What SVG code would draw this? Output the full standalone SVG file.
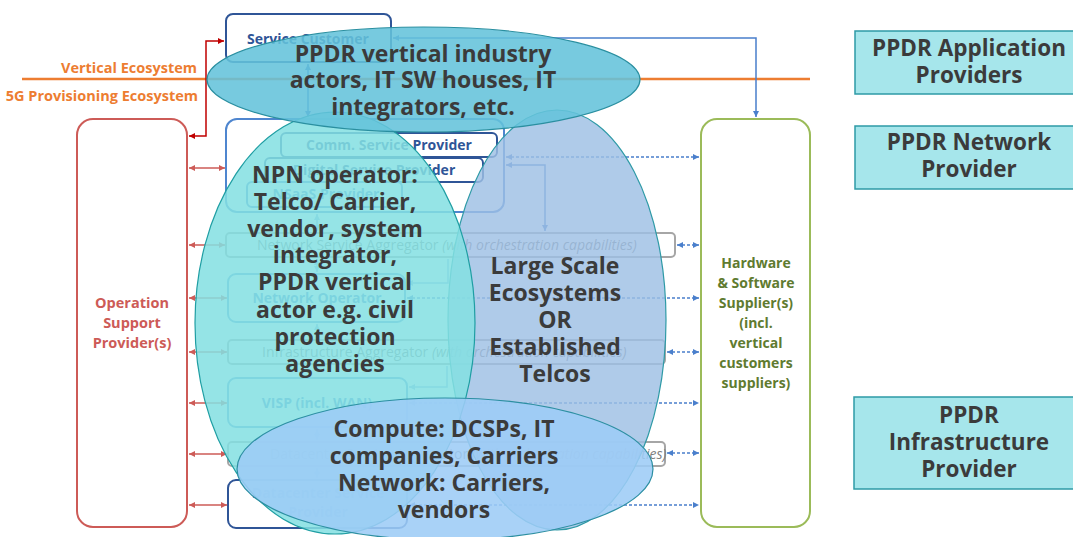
<svg xmlns="http://www.w3.org/2000/svg" width="1073" height="537" viewBox="0 0 1073 537">
  <style>
    .t { font-family: "Open Sans", "Liberation Sans", sans-serif; }
    .eco { font-size: 14.5px; font-weight: 700; fill: #ED7D31; }
    .box { fill: #ffffff; stroke-width: 2; }
    .dark { stroke: #2F5597; }
    .mid { stroke: #4F86CF; }
    .lite { stroke: #5B9BD5; }
    .grey { stroke: #A6A6A6; }
    .blab { font-size: 14px; font-weight: 700; fill: #2F5597; }
    .llab { font-size: 14px; font-weight: 700; fill: #4A86CC; }
    .glab { font-size: 14px; fill: #7F7F7F; }
    .glab tspan.it { font-style: italic; }
    .big { font-size: 23px; font-weight: 700; fill: #3B3B3B; text-anchor: middle; }
    .side { font-size: 22.5px; font-weight: 700; fill: #3B3B3B; text-anchor: middle; }
    .sidebox { fill: #A6E6EB; stroke: #2E9AA6; stroke-width: 1.5; }
    .red { stroke: #CD5B57; stroke-width: 1.5; fill: none; }
    .dred { stroke: #C00000; stroke-width: 1.5; fill: none; }
    .blue { stroke: #4A7FCC; stroke-width: 1.5; fill: none; }
    .dash { stroke: #4A7FCC; stroke-width: 1.5; fill: none; stroke-dasharray: 3 2; }
    .faint { stroke: #8FB4E3; stroke-width: 1.5; fill: none; }
  </style>
  <defs>
    <marker id="ar-red" viewBox="0 0 10 10" refX="10" refY="5" markerWidth="7" markerHeight="6" markerUnits="userSpaceOnUse" orient="auto-start-reverse">
      <path d="M0,0 L10,5 L0,10 z" fill="#CD5B57"/>
    </marker>
    <marker id="ar-dred" viewBox="0 0 10 10" refX="10" refY="5" markerWidth="7" markerHeight="6" markerUnits="userSpaceOnUse" orient="auto-start-reverse">
      <path d="M0,0 L10,5 L0,10 z" fill="#C00000"/>
    </marker>
    <marker id="ar-blue" viewBox="0 0 10 10" refX="10" refY="5" markerWidth="7" markerHeight="6" markerUnits="userSpaceOnUse" orient="auto-start-reverse">
      <path d="M0,0 L10,5 L0,10 z" fill="#4A7FCC"/>
    </marker>
    <marker id="ar-faint" viewBox="0 0 10 10" refX="10" refY="5" markerWidth="7" markerHeight="6" markerUnits="userSpaceOnUse" orient="auto-start-reverse">
      <path d="M0,0 L10,5 L0,10 z" fill="#8FB4E3"/>
    </marker>
  </defs>

  <rect width="1073" height="537" fill="#ffffff"/>

  <!-- ecosystem boundary -->
  <g id="ecosystem-boundary">
    <line x1="22" y1="79" x2="810" y2="79" stroke="#ED7D31" stroke-width="2.5"/>
    <text class="t eco" x="197" y="73" text-anchor="end">Vertical Ecosystem</text>
    <text class="t eco" x="198" y="101" text-anchor="end">5G Provisioning Ecosystem</text>
  </g>

  <!-- role boxes -->
  <g id="service-customer">
    <rect class="box dark" x="226" y="14" width="165" height="48" rx="7"/>
    <text class="t blab" x="247" y="44">Service Customer</text>
  </g>

  <g id="operation-support">
    <rect class="box" x="77" y="119" width="110" height="408" rx="16" stroke="#CD5B57"/>
    <text class="t" x="132" y="308" text-anchor="middle" font-size="14.5" font-weight="700" fill="#CD5B57">Operation</text>
    <text class="t" x="132" y="328" text-anchor="middle" font-size="14.5" font-weight="700" fill="#CD5B57">Support</text>
    <text class="t" x="132" y="348" text-anchor="middle" font-size="14.5" font-weight="700" fill="#CD5B57">Provider(s)</text>
  </g>

  <g id="service-providers">
    <rect class="box mid" x="226" y="119" width="278" height="93" rx="11"/>
    <g id="comm-service-provider">
      <rect class="box dark" x="281" y="133" width="216" height="24" rx="5"/>
      <text class="t blab" x="389" y="150" text-anchor="middle">Comm. Service Provider</text>
    </g>
    <g id="digital-service-provider">
      <rect class="box dark" x="265" y="158" width="218" height="24" rx="5"/>
      <text class="t blab" x="374" y="175" text-anchor="middle">Digital Service Provider</text>
    </g>
    <g id="nsaas-provider">
      <rect class="box mid" x="247" y="182" width="155" height="25" rx="5"/>
      <text class="t llab" x="326" y="199" text-anchor="middle">NSaaS Provider</text>
    </g>
  </g>

  <g id="network-service-aggregator">
    <rect class="box grey" x="226" y="233" width="449" height="24" rx="4"/>
    <text class="t glab" x="257" y="250">Network Service Aggregator <tspan class="it">(with orchestration capabilities)</tspan></text>
  </g>

  <g id="network-operator">
    <rect class="box lite" x="228" y="274" width="177" height="48" rx="8"/>
    <text class="t llab" x="317" y="303" text-anchor="middle">Network Operator</text>
  </g>

  <g id="infrastructure-aggregator">
    <rect class="box grey" x="228" y="340" width="437" height="24" rx="4"/>
    <text class="t glab" x="262" y="357">Infrastructure Aggregator <tspan class="it">(with orchestration capabilities)</tspan></text>
  </g>

  <g id="visp">
    <rect class="box lite" x="228" y="378" width="179" height="49" rx="8"/>
    <text class="t llab" x="317" y="408" text-anchor="middle">VISP (incl. WAN)</text>
  </g>

  <g id="datacenter-service-aggregator">
    <rect class="box grey" x="228" y="442" width="437" height="24" rx="4"/>
    <text class="t glab" x="270" y="459">Datacenter Service Aggregator <tspan class="it">(with orchestration capabilities)</tspan></text>
  </g>

  <g id="datacenter-service-provider">
    <rect class="box dark" x="228" y="480" width="179" height="48" rx="8"/>
    <text class="t llab" x="318" y="498" text-anchor="middle">Datacenter Service</text>
    <text class="t llab" x="318" y="517" text-anchor="middle">Provider</text>
  </g>

  <g id="hw-sw-suppliers">
    <rect class="box" x="701" y="119" width="109" height="408" rx="16" stroke="#9BBB59" stroke-width="2.5"/>
    <g class="t" font-size="14" font-weight="700" fill="#5F7B30" text-anchor="middle">
      <text x="756" y="268">Hardware</text>
      <text x="756" y="288">&amp; Software</text>
      <text x="756" y="308">Supplier(s)</text>
      <text x="756" y="328">(incl.</text>
      <text x="756" y="348">vertical</text>
      <text x="756" y="368">customers</text>
      <text x="756" y="388">suppliers)</text>
    </g>
  </g>

  <!-- connectors -->
  <g id="connectors">
    <path class="dred" d="M224,41 H206 V136 H189" marker-start="url(#ar-dred)" marker-end="url(#ar-dred)"/>
    <g marker-start="url(#ar-red)" marker-end="url(#ar-red)">
      <path class="red" d="M189,168 H225"/>
      <path class="red" d="M189,245 H225"/>
      <path class="red" d="M189,298 H227"/>
      <path class="red" d="M189,352 H227"/>
      <path class="red" d="M189,403 H227"/>
      <path class="red" d="M189,454 H227"/>
      <path class="red" d="M189,505 H227"/>
    </g>
    <path class="blue" d="M393,38 H756 V117" marker-start="url(#ar-blue)" marker-end="url(#ar-blue)"/>
    <path class="blue" d="M308,64 V117" marker-start="url(#ar-blue)" marker-end="url(#ar-blue)"/>
    <path class="blue" d="M506,165 H545 V231" marker-start="url(#ar-blue)" marker-end="url(#ar-blue)"/>
    <g marker-start="url(#ar-blue)" marker-end="url(#ar-blue)">
      <path class="dash" d="M506,157 H699"/>
      <path class="dash" d="M677,245 H699"/>
      <path class="dash" d="M407,298 H699"/>
      <path class="dash" d="M667,352 H699"/>
      <path class="dash" d="M409,403 H699"/>
      <path class="dash" d="M667,453 H699"/>
      <path class="dash" d="M409,505 H699"/>
    </g>
    <g marker-start="url(#ar-faint)" marker-end="url(#ar-faint)">
      <path class="faint" d="M317,214 V231"/>
      <path class="faint" d="M317,259 V272"/>
      <path class="faint" d="M317,324 V338"/>
      <path class="faint" d="M317,429 V440"/>
      <path class="faint" d="M317,468 V478"/>
    </g>
    <path class="faint" d="M448,259 V283 H407" marker-end="url(#ar-faint)"/>
    <path class="faint" d="M447,366 V387 H409" marker-end="url(#ar-faint)"/>
  </g>

  <!-- actor groupings -->
  <g id="large-scale-ecosystems">
    <ellipse cx="557" cy="320" rx="109" ry="210" fill="#9DC0E4" fill-opacity="0.82" stroke="#2E9AA6" stroke-width="1.2"/>
    <text class="t big" x="555" y="274">Large Scale</text>
    <text class="t big" x="555" y="301">Ecosystems</text>
    <text class="t big" x="555" y="328">OR</text>
    <text class="t big" x="555" y="355">Established</text>
    <text class="t big" x="555" y="382">Telcos</text>
  </g>

  <g id="npn-operator">
    <ellipse cx="335" cy="323" rx="140" ry="211" fill="#84E0E2" fill-opacity="0.86" stroke="#1F9EA3" stroke-width="1.2"/>
    <text class="t big" x="335" y="183">NPN operator:</text>
    <text class="t big" x="335" y="210">Telco/ Carrier,</text>
    <text class="t big" x="335" y="237">vendor, system</text>
    <text class="t big" x="335" y="263">integrator,</text>
    <text class="t big" x="335" y="290">PPDR vertical</text>
    <text class="t big" x="335" y="318">actor e.g. civil</text>
    <text class="t big" x="335" y="345">protection</text>
    <text class="t big" x="335" y="372">agencies</text>
  </g>

  <g id="vertical-actors">
    <ellipse cx="423.5" cy="79.5" rx="216.5" ry="52.5" fill="#64C3DB" fill-opacity="0.88" stroke="#2A8FA0" stroke-width="1.2"/>
    <text class="t big" x="423" y="62">PPDR vertical industry</text>
    <text class="t big" x="423" y="88">actors, IT SW houses, IT</text>
    <text class="t big" x="423" y="115">integrators, etc.</text>
  </g>

  <g id="compute-network">
    <ellipse cx="445" cy="469" rx="208" ry="71" fill="#9DCCF6" fill-opacity="0.88" stroke="#2C8FA2" stroke-width="1.2"/>
    <text class="t big" x="444" y="437">Compute: DCSPs, IT</text>
    <text class="t big" x="444" y="464">companies, Carriers</text>
    <text class="t big" x="444" y="491">Network: Carriers,</text>
    <text class="t big" x="444" y="518">vendors</text>
  </g>

  <!-- PPDR provider legend -->
  <g id="ppdr-application-providers">
    <rect class="sidebox" x="855" y="31" width="230" height="63"/>
    <text class="t side" x="969" y="56">PPDR Application</text>
    <text class="t side" x="969" y="83">Providers</text>
  </g>
  <g id="ppdr-network-provider">
    <rect class="sidebox" x="855" y="126" width="230" height="63"/>
    <text class="t side" x="969" y="150">PPDR Network</text>
    <text class="t side" x="969" y="177">Provider</text>
  </g>
  <g id="ppdr-infrastructure-provider">
    <rect class="sidebox" x="854" y="397" width="231" height="92"/>
    <text class="t side" x="969" y="423">PPDR</text>
    <text class="t side" x="969" y="450">Infrastructure</text>
    <text class="t side" x="969" y="477">Provider</text>
  </g>
</svg>
